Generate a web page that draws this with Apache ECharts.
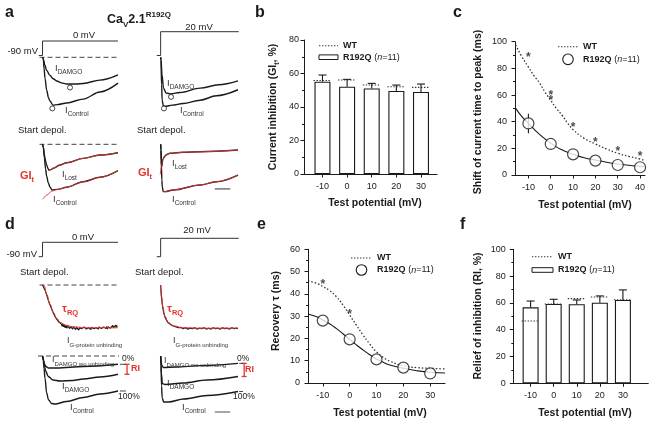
<!DOCTYPE html>
<html><head><meta charset="utf-8">
<script src="https://cdn.jsdelivr.net/npm/echarts@6/dist/echarts.min.js"></script>
<style>html,body{margin:0;padding:0;background:#fff}#c{width:656px;height:424px}</style>
</head><body><div id="c"></div><script>
// ================= DATA =================
const potentials  = [-10, 0, 10, 20, 30];
const potentialsC = [-10, 0, 10, 20, 30, 40];
// b: current inhibition (GIt, %)
const giR192Q = [55.1, 52.1, 51.1, 49.6, 49.0];
const giErr   = [4.0, 4.4, 3.0, 3.5, 4.7];
const giWT    = [55.8, 56.1, 53.1, 52.1, 51.7];
// c: shift of current time to peak (ms)
const shiftR192Q = [38.7, 23.3, 15.5, 10.8, 7.5, 5.8];
const shiftErr   = [7.3, 0, 0, 0, 0, 0];
const fitC_x     = [-15.7, -13, -10, -7.5, -5, -2.5, 0, 2.5, 5, 7.5, 10, 15, 20, 25, 30, 35, 40, 42.2];
const fitC_R192Q = [50, 44, 38.7, 34.4, 30.5, 27, 23.8, 21.1, 18.9, 17, 15.5, 13, 11.2, 9.6, 8.3, 7.3, 6.5, 6.2];
const fitC_WT    = [97.5, 89, 81, 74.5, 69, 62, 56, 50, 45, 39, 34, 27.5, 23.3, 19.5, 16.3, 14, 12, 10.8];
const starC_x = [-10, 0, 0, 10, 20, 30, 40];
const starC_y = [90, 61.5, 58, 37.5, 26.8, 20, 15.8];
// e: recovery tau (ms)
const tauR192Q   = [28, 19.6, 10.6, 6.9, 4.3];
const fitE_x     = [-15.5, -12.5, -10, -7.5, -5, -2.5, 0, 2.5, 5, 7.5, 10, 12.5, 15, 20, 25, 30, 35.5];
const fitE_R192Q = [31, 29.8, 28.3, 26.6, 24.5, 22.1, 19.6, 17.1, 14.8, 12.7, 10.8, 9.3, 8.1, 6.6, 5.5, 4.8, 4.5];
const fitE_WT    = [45.8, 44.8, 43.3, 41.5, 38.8, 35, 30.5, 26, 21.5, 17.5, 14, 11.5, 9.8, 7.7, 6.9, 6.6, 6.3];
const starE_x = [-10, 0];
const starE_y = [45.5, 32];
// f: relief of inhibition (RI, %)
const riR192Q = [56.7, 59.2, 59.0, 60.2, 62.2];
const riErr   = [4.7, 3.5, 3.2, 5.0, 7.5];
const riWT    = [46.5, 59.2, 63.2, 64.4, 62.4];

// voltage protocols [time ms, mV]
const stepTo0  = [[-5, -90], [0, -90], [0, 0], [100, 0]];
const stepTo20 = [[-5, -90], [0, -90], [0, 20], [101, 20]];

// panel a traces [time, normalised current]
const aTL_control = [[0,0],[1,-2],[2,-20],[3.3,-38],[5.5,-60],[8,-74],[10,-80],[14,-87],[20,-86],[32,-83],[54,-76],[76,-63],[100,-47]];
const aTL_damgo   = [[0,0],[1,-3],[3,-14],[5.5,-24],[9.9,-33],[14,-39],[18.8,-43],[25,-46.5],[32,-48.5],[45,-48.5],[54,-47.5],[76,-41.5],[100,-32]];
const aTL_peaks   = [[13,-93],[36.4,-55]];
const aTR_control = [[0,0],[0.5,-5],[1.2,-50],[2,-78],[3.4,-88],[6,-89],[15,-87],[29,-84],[51,-78],[72,-70],[100,-59]];
const aTR_damgo   = [[0,0],[0.5,-5],[1.8,-32],[3.7,-56],[7,-65],[13,-66.5],[25,-64],[51,-56],[75,-50],[100,-43]];
const aTR_peaks   = [[4.3,-93],[13.4,-72]];
const aBL_control    = [[0,0],[1,-5],[2.5,-25],[4,-45],[5.5,-58],[7.6,-70],[10,-78],[12.5,-83],[20,-82],[32,-78],[54,-68],[76,-60],[100,-48]];
const aBL_controlFit = [[0.5,-100],[6,-92],[12.5,-85],[20,-82],[32,-78],[54,-68],[76,-60],[100,-48]];
const aBL_lost       = [[0,0],[1,-5],[2.5,-20],[4,-30],[5.5,-38],[7.6,-45],[8.6,-47],[11,-46],[14.3,-43.6],[23,-37.6],[32,-33.5],[54,-25.5],[76,-19.5],[100,-15.3]];
const aBL_lostFit    = [[8.6,-47],[11,-46],[14.3,-43.6],[23,-37.6],[32,-33.5],[54,-25.5],[76,-19.5],[100,-15.3]];
const aBR_control    = [[0,0],[0.4,-10],[1,-40],[1.6,-65],[2.1,-77],[3.4,-86],[6,-86],[16.4,-83],[51,-74],[72,-68],[100,-56]];
const aBR_controlFit = [[3.4,-86],[6,-86],[16.4,-83],[51,-74],[72,-68],[100,-56]];
const aBR_lost       = [[0,0],[0.5,-10],[0.9,-30],[1.2,-42],[3,-27],[5.6,-21.3],[8,-18.5],[12,-16.4],[29,-14.5],[51,-13.5],[100,-10.4]];
const aBR_lostFit    = [[-0.5,-55],[1.2,-40],[3,-27],[5.6,-21.3],[8,-18.5],[12,-16.4],[29,-14.5],[51,-13.5],[100,-10.4]];

// panel d traces
const dTL_raw = [[0,0],[2,-4],[3.5,-12],[5.5,-22],[7.5,-33],[9.9,-44],[12,-53],[14.3,-62],[16.5,-70],[18.8,-76],[21,-81],[23.2,-85],[25,-87],[26,-92],[27,-86],[28,-93],[29,-88],[30,-95],[31,-90],[32,-96],[33,-91],[34,-94],[35,-89],[36,-97],[37,-92],[38,-95],[39,-90],[40,-98],[41,-93],[42,-96],[43,-91],[44,-99],[45,-94],[46,-97],[47,-92],[48,-100],[49,-95],[50,-98],[51,-92],[52,-97],[53,-94],[54,-99],[55,-93],[56,-96],[57,-91],[58,-98],[59,-94],[60,-100],[61,-95],[62,-97],[63,-92],[64,-99],[65,-94],[66,-96],[67,-90],[68,-97],[69,-93],[70,-99],[71,-95],[72,-97],[73,-91],[74,-98],[75,-93],[76,-96],[77,-90],[78,-97],[79,-94],[80,-99],[81,-93],[82,-96],[83,-91],[84,-97],[85,-92],[86,-98],[87,-93],[88,-95],[89,-89],[90,-96],[91,-92],[92,-97],[93,-90],[94,-95],[95,-91],[96,-96],[97,-89],[98,-94],[99,-90],[100,-93]];
const dTL_fit = [[0,0],[2.3,-2],[5.5,-21],[9.9,-43],[14.3,-61],[18.8,-74],[23.2,-83],[29.8,-89],[40.8,-93],[58.5,-95],[76,-95],[100,-95]];
const dTR_raw = [[0,0],[0.5,-12],[1.2,-28],[2.7,-50],[4,-62],[5.6,-71],[7.5,-78],[9.9,-84],[13,-88],[16.4,-91],[20,-93],[23,-95],[26,-94],[29,-97],[32,-95],[35,-98],[38,-96],[41,-97],[44,-95],[47,-98],[50,-96],[53,-97],[56,-95],[59,-98],[62,-96],[65,-98],[68,-95],[71,-97],[74,-96],[77,-98],[80,-95],[83,-97],[86,-96],[89,-98],[92,-95],[95,-97],[98,-96],[100,-97]];
const dTR_fit = [[0,0],[1.2,-27],[2.7,-48],[5.6,-70],[9.9,-84],[16.4,-91],[29.3,-95],[50.9,-96],[100,-96]];
const dBL_wo      = [[0,0],[1,-6],[2.5,-16],[4.5,-21],[8,-24],[19,-24],[54,-21],[100,-16.6]];
const dBL_damgo   = [[0,0],[1,-8],[2.5,-20],[4.2,-30],[7.6,-41],[14,-48],[23,-50],[40,-49],[54,-46],[76,-42],[100,-36.6]];
const dBL_control = [[0,0],[1,-8],[2,-25],[3.3,-45],[5.5,-74],[8,-88],[12,-95],[16.5,-96],[32,-91],[54,-83],[76,-76],[100,-70]];
const dBR_wo      = [[0,0],[0.5,-10],[1.5,-19],[3.5,-23],[20,-22],[51,-19.3],[100,-14.7]];
const dBR_damgo   = [[0,0],[0.5,-15],[1,-35],[2.2,-55],[5.6,-57],[29,-54],[60,-48],[100,-41]];
const dBR_control = [[0,0],[0.5,-20],[1.2,-60],[2,-84],[4,-92],[10,-92],[30,-86],[60,-79],[100,-71]];

// ================= BUILD =================
const FF = "'Liberation Sans', Arial, Helvetica, sans-serif";
const RED = '#e3342b';
const INK = '#1a1a1a';
const grids = [], xAxes = [], yAxes = [], series = [], graphic = [];

function visibleGrid(left, top, width, height, xmin, xmax, xticks, ymin, ymax, yint, mx, my) {
  const i = grids.length;
  grids.push({left, top, width, height});
  xAxes.push({type:'value', gridIndex:i, min:xmin, max:xmax,
    axisLine:{show:true, onZero:false, lineStyle:{color:INK, width:1}},
    axisTick:{show:true, customValues:xticks, length:3.5, lineStyle:{color:INK, width:1}},
    axisLabel:{customValues:xticks, margin:mx, fontSize:9, color:INK, fontFamily:FF},
    splitLine:{show:false}});
  yAxes.push({type:'value', gridIndex:i, min:ymin, max:ymax, interval:yint,
    axisLine:{show:true, onZero:false, lineStyle:{color:INK, width:1}},
    axisTick:{show:true, length:3.5, lineStyle:{color:INK, width:1}},
    minorTick:{show:true, splitNumber:2, length:2, lineStyle:{color:INK, width:1}},
    axisLabel:{margin:my, fontSize:9, color:INK, fontFamily:FF, showMinLabel:true, showMaxLabel:true},
    splitLine:{show:false}});
  return i;
}
function hiddenGrid(left, top, width, height, xmin, xmax, ymin, ymax) {
  const i = grids.length;
  grids.push({left, top, width, height});
  xAxes.push({type:'value', gridIndex:i, min:xmin, max:xmax, show:false, splitLine:{show:false}});
  yAxes.push({type:'value', gridIndex:i, min:ymin, max:ymax, show:false, splitLine:{show:false}});
  return i;
}
function line(g, data, color, width, extra) {
  series.push(Object.assign({type:'line', xAxisIndex:g, yAxisIndex:g, data, symbol:'none', clip:false,
    silent:true, animation:false, smooth:0.35, smoothMonotone:'x', lineStyle:{color, width}, z:3}, extra || {}));
}
function arrow(g, from, to) {
  series.push({type:'line', xAxisIndex:g, yAxisIndex:g, data:[], silent:true, animation:false,
    markLine:{silent:true, animation:false, symbol:['none','arrow'], symbolSize:[5,6], label:{show:false},
      lineStyle:{type:'solid', color:INK, width:1}, data:[[{coord:from},{coord:to}]]}});
}
function zip(xs, ys) { return xs.map((x, k) => [x, ys[k]]); }

// ---- bar panels (b, f) ----
function errRender(cap) {
  return function (params, api) {
    const x = api.value(0), y = api.value(1), e = api.value(2);
    const p0 = api.coord([x, y]), p1 = api.coord([x, y + e]);
    const st = {stroke:INK, lineWidth:1.1};
    const ch = [{type:'line', shape:{x1:p0[0], y1:p0[1], x2:p1[0], y2:p1[1]}, style:st}];
    if (cap) ch.push({type:'line', shape:{x1:p1[0]-cap, y1:p1[1], x2:p1[0]+cap, y2:p1[1]}, style:st});
    return {type:'group', children:ch};
  };
}
function wtRender(half) {
  return function (params, api) {
    const p = api.coord([api.value(0), api.value(1)]);
    return {type:'line', shape:{x1:p[0]-half, y1:p[1], x2:p[0]+half, y2:p[1]},
      style:{stroke:'#333', lineWidth:1.1, lineDash:[1.4,1.6]}};
  };
}
function barPanel(g, vals, errs, wt, bw) {
  series.push({type:'bar', xAxisIndex:g, yAxisIndex:g, data:zip(potentials, vals), barWidth:bw,
    itemStyle:{color:'#fff', borderColor:INK, borderWidth:1.1}, silent:true, animation:false, z:2});
  series.push({type:'custom', xAxisIndex:g, yAxisIndex:g, data:potentials.map((p,k)=>[p, vals[k], errs[k]]),
    renderItem:errRender(4), silent:true, animation:false, z:3});
  series.push({type:'custom', xAxisIndex:g, yAxisIndex:g, data:zip(potentials, wt),
    renderItem:wtRender(9), silent:true, animation:false, z:4});
}
const gB = visibleGrid(304, 40, 133, 134, -17.5, 36.5, potentials, 0, 80, 20, 8, 5);
barPanel(gB, giR192Q, giErr, giWT, 16);
const gF = visibleGrid(513.3, 249.3, 135, 134, -17.5, 41, potentials, 0, 100, 20, 8, 7.5);
barPanel(gF, riR192Q, riErr, riWT, 16);

// ---- curve panels (c, e) ----
function starSeries(g, xs, ys) {
  series.push({type:'scatter', xAxisIndex:g, yAxisIndex:g, data:zip(xs, ys), symbolSize:1, silent:true, animation:false,
    itemStyle:{color:'rgba(0,0,0,0)'}, z:6,
    label:{show:true, position:'inside', formatter:'*', fontSize:12, fontWeight:'bold', color:INK, fontFamily:FF, offset:[0,3]}});
}
function curvePanel(g, fx, fR, fW, pts, vals, errs, sx, sy) {
  line(g, zip(fx, fW), '#333', 1.3, {smooth:0.5, smoothMonotone:null, lineStyle:{color:'#333', width:1.3, type:[1.5,2]}, z:2});
  line(g, zip(fx, fR), INK, 1.1, {smooth:0.5, smoothMonotone:null, z:2});
  if (errs) series.push({type:'custom', xAxisIndex:g, yAxisIndex:g, silent:true, animation:false, z:3,
    data:pts.map((p,k)=>[p, vals[k]-errs[k], 2*errs[k]]), renderItem:errRender(0)});
  series.push({type:'scatter', xAxisIndex:g, yAxisIndex:g, data:zip(pts, vals), symbol:'circle', symbolSize:11,
    itemStyle:{color:'#fff', borderColor:INK, borderWidth:1.2}, silent:true, animation:false, z:5});
  starSeries(g, sx, sy);
}
const gC = visibleGrid(515, 41.7, 130, 133.3, -16, 42.2, potentialsC, 0, 100, 20, 8, 8);
curvePanel(gC, fitC_x, fitC_R192Q, fitC_WT, potentialsC, shiftR192Q, shiftErr, starC_x, starC_y);
const gE = visibleGrid(308, 249.3, 137, 133.7, -15.5, 35.5, potentials, 0, 60, 10, 8, 8);
curvePanel(gE, fitE_x, fitE_R192Q, fitE_WT, potentials, tauR192Q, null, starE_x, starE_y);

// ---- trace panels (a, d) ----
// left sweeps span x 38..118, right sweeps 156..238
const L = {left:38, width:80}, R = {left:156, width:82};
const gAVL = hiddenGrid(L.left, 41, L.width, 14.5, -6, 100, -90, 0);
const gAVR = hiddenGrid(R.left, 31.7, R.width, 23.8, -6, 100, -90, 20);
const gATL = hiddenGrid(L.left, 57.3, L.width, 66, -6, 100, -120, 0);
const gATR = hiddenGrid(R.left, 57.3, R.width, 66, -6, 100, -120, 0);
const gABL = hiddenGrid(L.left, 144.3, L.width, 66, -6, 100, -120, 0);
const gABR = hiddenGrid(R.left, 144.3, R.width, 66, -6, 100, -120, 0);
const gDVL = hiddenGrid(L.left, 242.3, L.width, 14.4, -6, 100, -90, 0);
const gDVR = hiddenGrid(R.left, 238.3, R.width, 18.4, -6, 100, -90, 20);
const gDTL = hiddenGrid(L.left, 285, L.width, 54, -6, 100, -120, 0);
const gDTR = hiddenGrid(R.left, 285, R.width, 54, -6, 100, -120, 0);
const gDBL = hiddenGrid(L.left, 356, L.width, 60, -6, 100, -120, 0);
const gDBR = hiddenGrid(R.left, 356, R.width, 60, -6, 100, -120, 0);

const stepStyle = {smooth:false, lineStyle:{color:'#333', width:1}};
line(gAVL, stepTo0, '#333', 1, stepStyle);
line(gAVR, stepTo20, '#333', 1, stepStyle);
line(gDVL, stepTo0, '#333', 1, stepStyle);
line(gDVR, stepTo20, '#333', 1, stepStyle);

const dashStyle = {smooth:false, lineStyle:{color:'#444', width:1, type:[5,3]}, z:1};
line(gATL, [[-4,0],[262,0]], '#444', 1, dashStyle);
line(gABL, [[-4,0],[262,0]], '#444', 1, dashStyle);
line(gDTL, [[-4,0],[262,0]], '#444', 1, dashStyle);
line(gDBL, [[-6,0],[262,0]], '#444', 1, dashStyle);

const TW = 1.4;
line(gATL, aTL_control, INK, TW); line(gATL, aTL_damgo, INK, TW);
line(gATR, aTR_control, INK, TW); line(gATR, aTR_damgo, INK, TW);
const peakStyle = {type:'scatter', symbol:'circle', symbolSize:5, itemStyle:{color:'#fff', borderColor:INK, borderWidth:1}, z:5};
series.push(Object.assign({xAxisIndex:gATL, yAxisIndex:gATL, data:aTL_peaks, silent:true, animation:false}, peakStyle));
series.push(Object.assign({xAxisIndex:gATR, yAxisIndex:gATR, data:aTR_peaks, silent:true, animation:false}, peakStyle));

line(gABL, aBL_control, INK, TW); line(gABL, aBL_lost, INK, TW);
line(gABL, aBL_controlFit, RED, 0.9, {z:4}); line(gABL, aBL_lostFit, RED, 0.9, {z:4});
line(gABR, aBR_control, INK, TW); line(gABR, aBR_lost, INK, TW);
line(gABR, aBR_controlFit, RED, 0.9, {z:4}); line(gABR, aBR_lostFit, RED, 0.9, {z:4});

line(gDTL, dTL_raw, INK, 1.2, {smooth:false});
line(gDTL, dTL_fit, RED, 1, {z:4, smooth:0.5});
line(gDTR, dTR_raw, INK, 1.2, {smooth:false});
line(gDTR, dTR_fit, RED, 1, {z:4, smooth:0.5});

line(gDBL, dBL_wo, INK, TW); line(gDBL, dBL_damgo, INK, TW); line(gDBL, dBL_control, INK, TW);
line(gDBR, dBR_wo, INK, TW); line(gDBR, dBR_damgo, INK, TW); line(gDBR, dBR_control, INK, TW);

// start-of-depolarisation arrows and GIt arrows
arrow(gABL, [0, 20], [0, 0.5]); arrow(gABR, [0, 20], [0, 0.5]);
arrow(gDTL, [0, 18], [0, 0.5]); arrow(gDTR, [0, 18], [0, 0.5]);
arrow(gABL, [-13, -61], [-0.5, -61]); arrow(gABR, [-12.5, -51], [-0.9, -51]);

// RI brackets and 0% / 100% ticks, from the trace end levels
function riRender(params, api) {
  const t = api.value(0), top = api.value(1), bot = api.value(2), full = api.value(3), t0 = api.value(4), t1 = api.value(5);
  const a = api.coord([t, top]), b = api.coord([t, bot]);
  const z0 = api.coord([t0, top]), z1 = api.coord([t1, top]);
  const h0 = api.coord([t0, full]), h1 = api.coord([t1, full]);
  const rs = {stroke:RED, lineWidth:1.3}, ks = {stroke:'#333', lineWidth:0.9};
  return {type:'group', children:[
    {type:'line', shape:{x1:a[0], y1:a[1], x2:b[0], y2:b[1]}, style:rs},
    {type:'line', shape:{x1:a[0]-2.5, y1:a[1], x2:a[0]+2.5, y2:a[1]}, style:rs},
    {type:'line', shape:{x1:b[0]-2.5, y1:b[1], x2:b[0]+2.5, y2:b[1]}, style:rs},
    {type:'line', shape:{x1:z0[0], y1:z0[1], x2:z1[0], y2:z1[1]}, style:ks},
    {type:'line', shape:{x1:h0[0], y1:h0[1], x2:h1[0], y2:h1[1]}, style:ks}
  ]};
}
const lastV = a => a[a.length - 1][1];
series.push({type:'custom', xAxisIndex:gDBL, yAxisIndex:gDBL, silent:true, animation:false, z:5, clip:false,
  data:[[112, lastV(dBL_wo), lastV(dBL_damgo), lastV(dBL_control), 102.5, 110.5]], renderItem:riRender});
series.push({type:'custom', xAxisIndex:gDBR, yAxisIndex:gDBR, silent:true, animation:false, z:5, clip:false,
  data:[[108, lastV(dBR_wo), lastV(dBR_damgo), lastV(dBR_control), 101.5, 106.5]], renderItem:riRender});

// time scale bars
line(gABR, [[70,-81],[90,-81]], '#888', 1.6, {smooth:false});
line(gDBR, [[70,-112],[90,-112]], '#888', 1.6, {smooth:false});

// ================= TEXT =================
function T(x, y, text, o) {
  o = o || {};
  graphic.push({type:'text', x, y, rotation:o.rot || 0, silent:true, z:100, style:{
    text, x:0, y:0, align:o.align || 'left', verticalAlign:'middle',
    fill:o.fill || INK, fontSize:o.size || 9.5, fontWeight:o.bold ? 'bold' : 'normal',
    fontStyle:o.italic ? 'italic' : 'normal', fontFamily:FF, rich:o.rich}});
}
function subRich(size, subSize, color, bold) {
  const w = bold ? 'bold' : 'normal';
  return {i:{fontSize:size, fontFamily:FF, fill:color, fontWeight:w, lineHeight:size + 5, verticalAlign:'middle'},
          s:{fontSize:subSize, fontFamily:FF, fill:color, fontWeight:w, lineHeight:subSize, verticalAlign:'bottom'}};
}
const lab = subRich(9.5, 6.5, '#333', false);
// panel letters
[['a',5,13],['b',255,13],['c',453,13],['d',5,225],['e',257,225],['f',460,225]].forEach(p => T(p[1], p[2], p[0], {size:16, bold:true}));
// title
T(139, 20, '{m|Ca}{sb|V}{m|2.1}{sp|R192Q}', {align:'center', rich:{
  m:{fontSize:12.5, fontWeight:'bold', fontFamily:FF, fill:INK, lineHeight:18, verticalAlign:'middle'},
  sb:{fontSize:8, fontWeight:'bold', fontFamily:FF, fill:INK, lineHeight:8, verticalAlign:'bottom'},
  sp:{fontSize:8, fontWeight:'bold', fontFamily:FF, fill:INK, lineHeight:8, verticalAlign:'top'}}});
// voltage labels
T(38, 51, '-90 mV', {align:'right'}); T(84, 35, '0 mV', {align:'center'}); T(199, 27, '20 mV', {align:'center'});
T(37, 254, '-90 mV', {align:'right'}); T(83, 237, '0 mV', {align:'center'}); T(197, 230, '20 mV', {align:'center'});
T(18, 130, 'Start depol.'); T(137, 130, 'Start depol.');
T(20, 272, 'Start depol.'); T(135, 272, 'Start depol.');
// trace labels
T(55, 68, '{i|I}{s|DAMGO}', {rich:lab}); T(167, 83, '{i|I}{s|DAMGO}', {rich:lab});
T(65, 110, '{i|I}{s|Control}', {rich:lab}); T(180, 110, '{i|I}{s|Control}', {rich:lab});
T(62, 174, '{i|I}{s|Lost}', {rich:lab}); T(172, 163, '{i|I}{s|Lost}', {rich:lab});
T(53, 199, '{i|I}{s|Control}', {rich:lab}); T(172, 199, '{i|I}{s|Control}', {rich:lab});
const gi = subRich(11, 7.5, RED, true);
T(20, 176, '{i|GI}{s|t}', {rich:gi}); T(138, 173, '{i|GI}{s|t}', {rich:gi});
const tau = subRich(11, 7.5, RED, true);
T(62, 309, '{i|τ}{s|RQ}', {rich:tau}); T(167, 309, '{i|τ}{s|RQ}', {rich:tau});
const labS = subRich(9, 6, '#333', false);
T(67, 341, '{i|I}{s|G-protein unbinding}', {rich:labS}); T(173, 341, '{i|I}{s|G-protein unbinding}', {rich:labS});
T(52, 360, '{i|I}{s|DAMGO wo unbinding}', {rich:labS}); T(164, 361, '{i|I}{s|DAMGO wo unbinding}', {rich:labS});
T(62, 386, '{i|I}{s|DAMGO}', {rich:lab}); T(167, 383, '{i|I}{s|DAMGO}', {rich:lab});
T(70, 407, '{i|I}{s|Control}', {rich:lab}); T(182, 407, '{i|I}{s|Control}', {rich:lab});
T(122, 359, '0%', {size:8.5}); T(237, 359, '0%', {size:8.5});
T(131, 369, 'RI', {size:9, bold:true, fill:RED}); T(245, 370, 'RI', {size:9, bold:true, fill:RED});
T(118, 397, '100%', {size:8.5}); T(233, 397, '100%', {size:8.5});

// axis titles
const ttl = {i:{fontSize:10.5, fontWeight:'bold', fontFamily:FF, fill:INK, lineHeight:15, verticalAlign:'middle'},
             s:{fontSize:7, fontWeight:'bold', fontFamily:FF, fill:INK, lineHeight:7, verticalAlign:'bottom'}};
T(273, 107, '{i|Current inhibition (GI}{s|t}{i|, %)}', {align:'center', rot:Math.PI/2, rich:ttl});
T(478, 112, 'Shift of current time to peak (ms)', {align:'center', rot:Math.PI/2, size:10.5, bold:true});
T(276, 311, 'Recovery τ (ms)', {align:'center', rot:Math.PI/2, size:10.5, bold:true});
T(478, 316, 'Relief of inhibition (RI, %)', {align:'center', rot:Math.PI/2, size:10.5, bold:true});
T(375, 203, 'Test potential (mV)', {align:'center', size:10.5, bold:true});
T(585, 205, 'Test potential (mV)', {align:'center', size:10.5, bold:true});
T(380, 413, 'Test potential (mV)', {align:'center', size:10.5, bold:true});
T(585, 413, 'Test potential (mV)', {align:'center', size:10.5, bold:true});

// legends
const nRich = {b:{fontSize:9, fontWeight:'bold', fontFamily:FF, fill:INK},
               r:{fontSize:9, fontFamily:FF, fill:INK}, it:{fontSize:9, fontStyle:'italic', fontFamily:FF, fill:INK}};
function legend(x1, x2, yWT, yR, kind) {
  graphic.push({type:'line', silent:true, z:100, shape:{x1, y1:yWT, x2, y2:yWT}, style:{stroke:'#333', lineWidth:1.1, lineDash:[1.4,1.6]}});
  if (kind === 'bar') graphic.push({type:'rect', silent:true, z:100, shape:{x:x1, y:yR-2.3, width:x2-x1, height:4.6}, style:{fill:'#fff', stroke:INK, lineWidth:1}});
  else graphic.push({type:'circle', silent:true, z:100, shape:{cx:(x1+x2)/2, cy:yR, r:5.3}, style:{fill:'#fff', stroke:INK, lineWidth:1.1}});
  T(x2 + 5, yWT, 'WT', {size:9, bold:true});
  T(x2 + 5, yR, '{b|R192Q} {r|(}{it|n}{r|=11)}', {rich:nRich});
}
legend(319, 338, 45.7, 57.2, 'bar');
legend(558, 578, 46.7, 59.3, 'circle');
legend(351, 372, 258, 270, 'circle');
legend(532, 553, 256.7, 270, 'bar');

const chart = echarts.init(document.getElementById('c'), null, {renderer:'canvas'});
chart.setOption({animation:false, backgroundColor:'#fff', grid:grids, xAxis:xAxes, yAxis:yAxes, series, graphic});
</script></body></html>
